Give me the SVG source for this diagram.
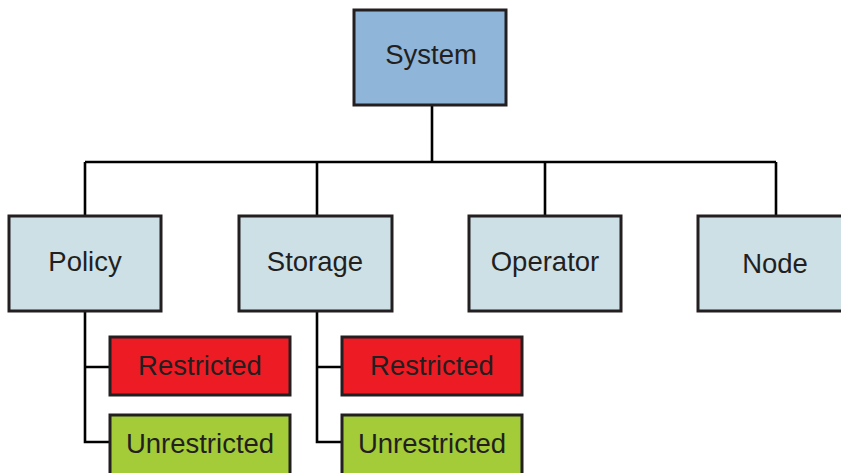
<svg xmlns="http://www.w3.org/2000/svg" width="841" height="473" viewBox="0 0 841 473">
<style>
.box{stroke:#231f20;stroke-width:3}
.root{fill:#8fb5d9}
.cat{fill:#cde0e6}
.red{fill:#ed1c24}
.green{fill:#a4cc39}
.lbl{font-family:"Liberation Sans",Arial,sans-serif;font-size:27.5px;fill:#231f20;text-anchor:middle}
.conn{fill:none;stroke:#000;stroke-width:2.6}
</style>
<rect width="841" height="473" fill="#fff"/>
<g id="connectors">
<path class="conn" d="M432 105V162M85 162H776M85 162V216M317 162V216M545 162V216M776 162V215"/>
<path class="conn" d="M85 311V442H110M85 367H110"/>
<path class="conn" d="M317 311V442H342M317 367H342"/>
</g>
<g id="system"><rect class="box root" x="354" y="10" width="152" height="95"/><text class="lbl" x="431" y="64">System</text></g>
<g id="policy"><rect class="box cat" x="9" y="216" width="152" height="95"/><text class="lbl" x="85" y="271">Policy</text></g>
<g id="storage"><rect class="box cat" x="239" y="216" width="153" height="95"/><text class="lbl" x="315" y="271">Storage</text></g>
<g id="operator"><rect class="box cat" x="469" y="216" width="152" height="95"/><text class="lbl" x="545" y="271">Operator</text></g>
<g id="node"><rect class="box cat" x="698" y="216" width="152" height="95"/><text class="lbl" x="775" y="273">Node</text></g>
<g id="policy-restricted"><rect class="box red" x="110" y="337" width="180" height="58"/><text class="lbl" x="200" y="375">Restricted</text></g>
<g id="policy-unrestricted"><rect class="box green" x="110" y="415" width="180" height="60"/><text class="lbl" x="200" y="453">Unrestricted</text></g>
<g id="storage-restricted"><rect class="box red" x="342" y="337" width="180" height="58"/><text class="lbl" x="432" y="375">Restricted</text></g>
<g id="storage-unrestricted"><rect class="box green" x="342" y="415" width="180" height="60"/><text class="lbl" x="432" y="453">Unrestricted</text></g>
</svg>
